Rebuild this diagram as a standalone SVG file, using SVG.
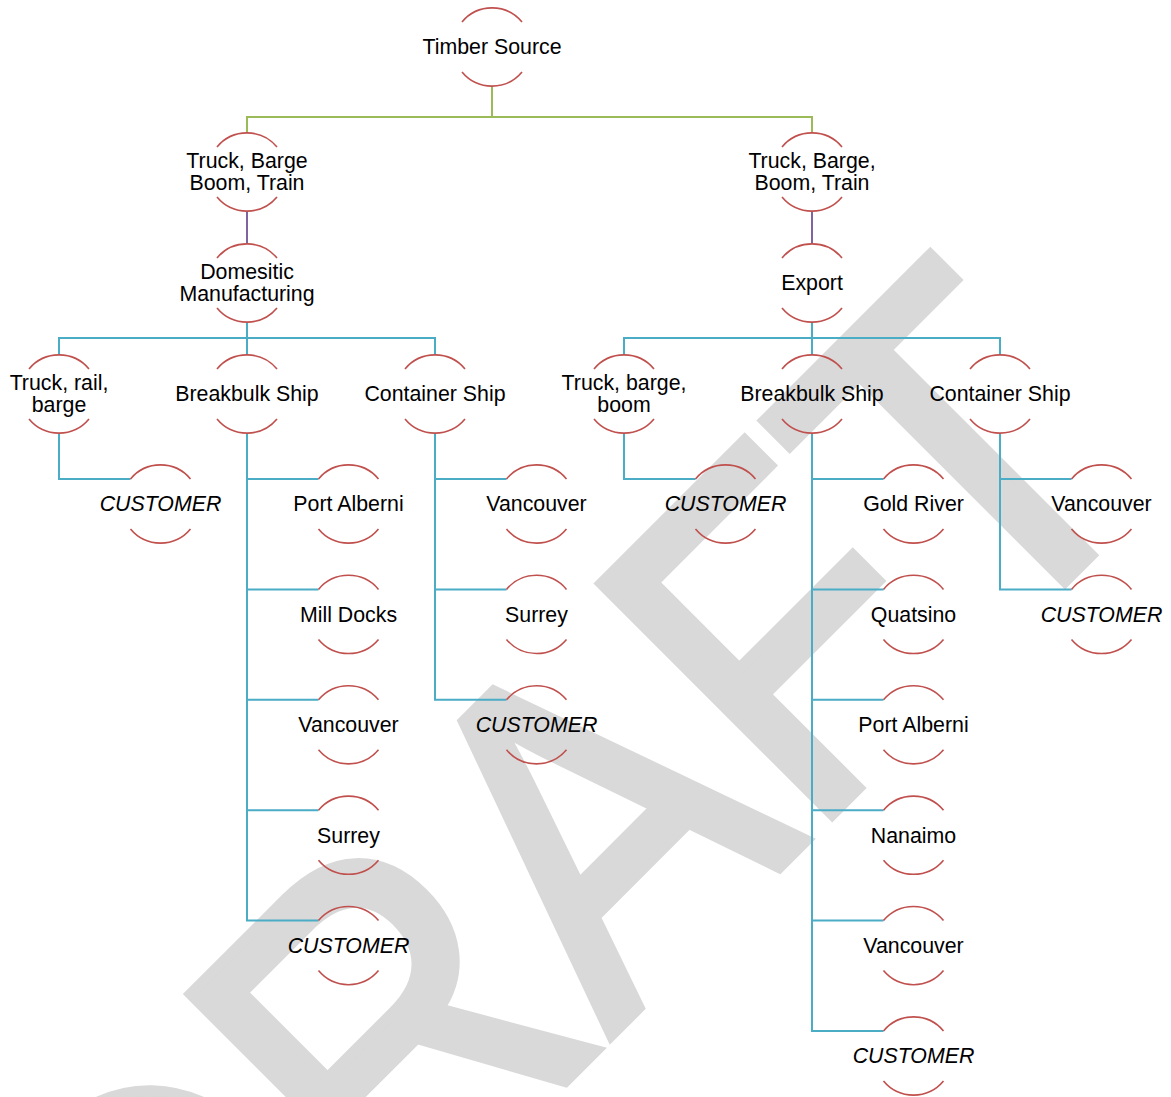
<svg xmlns="http://www.w3.org/2000/svg" xmlns:xlink="http://www.w3.org/1999/xlink" width="1171" height="1097" viewBox="0 0 1171 1097">
<style>
.wm{font-family:"Liberation Sans",Arial,sans-serif;font-size:475px;fill:#d9d9d9;stroke:#d9d9d9;stroke-width:11px;stroke-linejoin:miter}
.arc{fill:none;stroke:#c0504d;stroke-width:1.6}
.t{font-family:"Liberation Sans",Arial,sans-serif;font-size:21.33px;fill:#000;text-anchor:middle}
.i{font-style:italic}
.g{fill:none;stroke:#9bbb59;stroke-width:2}
.p{fill:none;stroke:#8064a2;stroke-width:2}
.c{fill:none;stroke:#4bacc6;stroke-width:2}
</style>
<defs>
<path id="arcs" class="arc" d="M-30,-25 A39,39 0 0 1 30,-25 M-30,25 A39,39 0 0 0 30,25"/>
</defs>
<rect width="1171" height="1097" fill="#fff"/>
<text class="wm" transform="rotate(-45) translate(-905,1164.5) scale(0.88,1)">DRAFT</text>
<g id="connectors">
<path class="g" d="M492,86 V117 M247,117 H812 M247,116 V133 M812,116 V133"/>
<path class="p" d="M247,211 V244 M812,211 V244"/>
<path class="c" d="M247,322 V338 M59,338 H435 M59,337 V355 M247,337 V355 M435,337 V355"/>
<path class="c" d="M812,322 V338 M624,338 H1000 M624,337 V355 M812,337 V355 M1000,337 V355"/>
<path class="c" d="M59,433 V479 H130.5"/>
<path class="c" d="M247,433 V920.6 H318.5 M247,479 H318.5 M247,589.4 H318.5 M247,699.8 H318.5 M247,810.2 H318.5"/>
<path class="c" d="M435,433 V699.8 H506.5 M435,479 H506.5 M435,589.4 H506.5"/>
<path class="c" d="M624,433 V479 H695.5"/>
<path class="c" d="M812,433 V1031 H883.5 M812,479 H883.5 M812,589.4 H883.5 M812,699.8 H883.5 M812,810.2 H883.5 M812,920.6 H883.5"/>
<path class="c" d="M1000,433 V589.4 H1071.5 M1000,479 H1071.5"/>
</g>
<g id="n0"><use xlink:href="#arcs" x="492" y="47"/><text class="t" x="492" y="54.3">Timber Source</text></g>
<g id="n1"><use xlink:href="#arcs" x="247" y="172"/><text class="t" x="247" y="167.6">Truck, Barge</text><text class="t" x="247" y="190">Boom, Train</text></g>
<g id="n2"><use xlink:href="#arcs" x="812" y="172"/><text class="t" x="812" y="167.6">Truck, Barge,</text><text class="t" x="812" y="190">Boom, Train</text></g>
<g id="n3"><use xlink:href="#arcs" x="247" y="283"/><text class="t" x="247" y="278.6">Domesitic</text><text class="t" x="247" y="301">Manufacturing</text></g>
<g id="n4"><use xlink:href="#arcs" x="812" y="283"/><text class="t" x="812" y="290.3">Export</text></g>
<g id="n5"><use xlink:href="#arcs" x="59" y="394"/><text class="t" x="59" y="389.6">Truck, rail,</text><text class="t" x="59" y="412">barge</text></g>
<g id="n6"><use xlink:href="#arcs" x="247" y="394"/><text class="t" x="247" y="401.3">Breakbulk Ship</text></g>
<g id="n7"><use xlink:href="#arcs" x="435" y="394"/><text class="t" x="435" y="401.3">Container Ship</text></g>
<g id="n8"><use xlink:href="#arcs" x="624" y="394"/><text class="t" x="624" y="389.6">Truck, barge,</text><text class="t" x="624" y="412">boom</text></g>
<g id="n9"><use xlink:href="#arcs" x="812" y="394"/><text class="t" x="812" y="401.3">Breakbulk Ship</text></g>
<g id="n10"><use xlink:href="#arcs" x="1000" y="394"/><text class="t" x="1000" y="401.3">Container Ship</text></g>
<g id="n11"><use xlink:href="#arcs" x="160.5" y="504"/><text class="t i" x="160.5" y="511.3">CUSTOMER</text></g>
<g id="n12"><use xlink:href="#arcs" x="348.5" y="504"/><text class="t" x="348.5" y="511.3">Port Alberni</text></g>
<g id="n13"><use xlink:href="#arcs" x="348.5" y="614.4"/><text class="t" x="348.5" y="621.7">Mill Docks</text></g>
<g id="n14"><use xlink:href="#arcs" x="348.5" y="724.8"/><text class="t" x="348.5" y="732.1">Vancouver</text></g>
<g id="n15"><use xlink:href="#arcs" x="348.5" y="835.2"/><text class="t" x="348.5" y="842.5">Surrey</text></g>
<g id="n16"><use xlink:href="#arcs" x="348.5" y="945.6"/><text class="t i" x="348.5" y="952.9">CUSTOMER</text></g>
<g id="n17"><use xlink:href="#arcs" x="536.5" y="504"/><text class="t" x="536.5" y="511.3">Vancouver</text></g>
<g id="n18"><use xlink:href="#arcs" x="536.5" y="614.4"/><text class="t" x="536.5" y="621.7">Surrey</text></g>
<g id="n19"><use xlink:href="#arcs" x="536.5" y="724.8"/><text class="t i" x="536.5" y="732.1">CUSTOMER</text></g>
<g id="n20"><use xlink:href="#arcs" x="725.5" y="504"/><text class="t i" x="725.5" y="511.3">CUSTOMER</text></g>
<g id="n21"><use xlink:href="#arcs" x="913.5" y="504"/><text class="t" x="913.5" y="511.3">Gold River</text></g>
<g id="n22"><use xlink:href="#arcs" x="913.5" y="614.4"/><text class="t" x="913.5" y="621.7">Quatsino</text></g>
<g id="n23"><use xlink:href="#arcs" x="913.5" y="724.8"/><text class="t" x="913.5" y="732.1">Port Alberni</text></g>
<g id="n24"><use xlink:href="#arcs" x="913.5" y="835.2"/><text class="t" x="913.5" y="842.5">Nanaimo</text></g>
<g id="n25"><use xlink:href="#arcs" x="913.5" y="945.6"/><text class="t" x="913.5" y="952.9">Vancouver</text></g>
<g id="n26"><use xlink:href="#arcs" x="913.5" y="1056"/><text class="t i" x="913.5" y="1063.3">CUSTOMER</text></g>
<g id="n27"><use xlink:href="#arcs" x="1101.5" y="504"/><text class="t" x="1101.5" y="511.3">Vancouver</text></g>
<g id="n28"><use xlink:href="#arcs" x="1101.5" y="614.4"/><text class="t i" x="1101.5" y="621.7">CUSTOMER</text></g>
</svg>
